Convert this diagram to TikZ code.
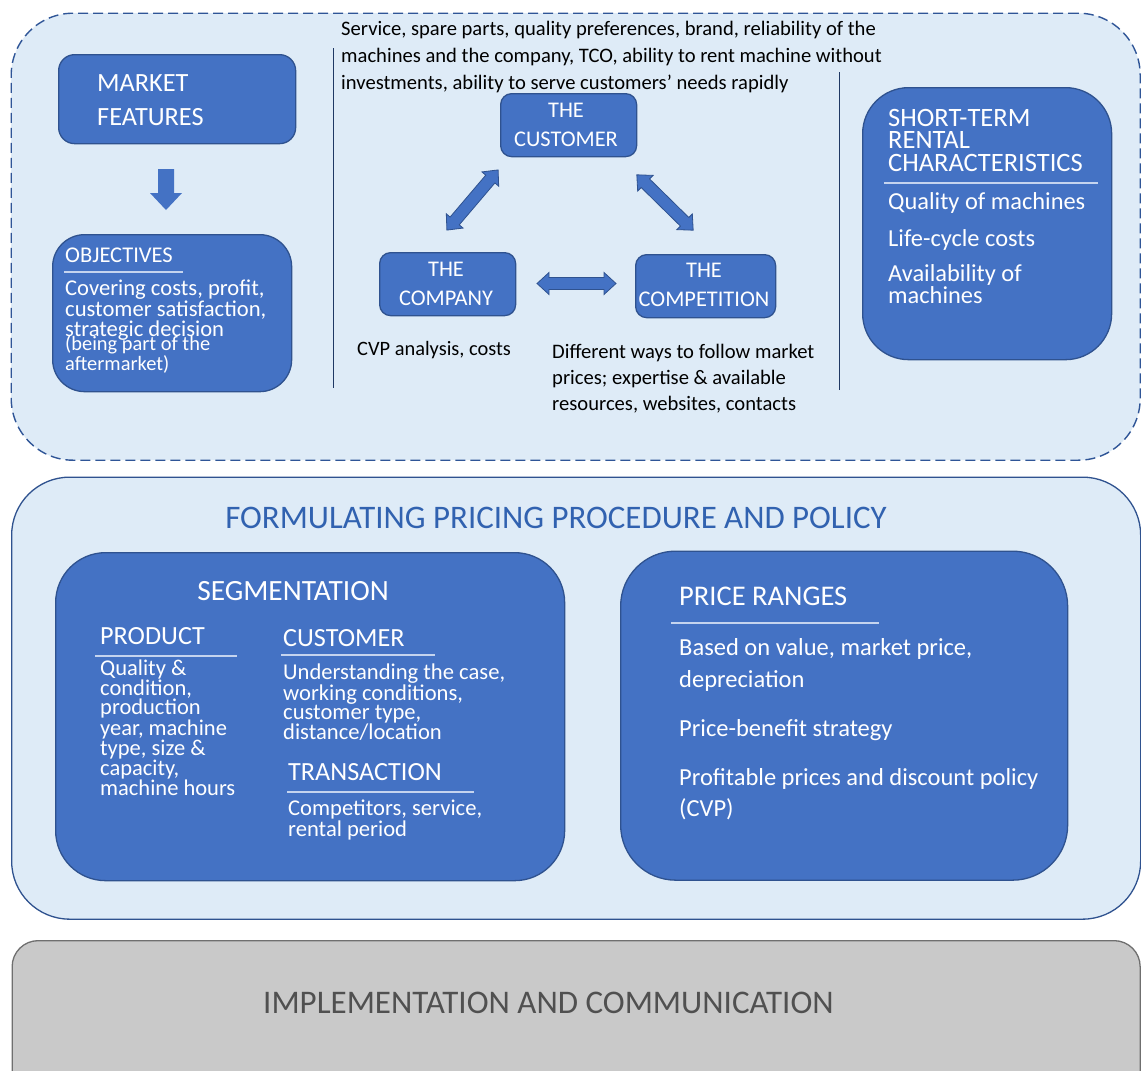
\documentclass[tikz,border=0pt]{standalone}
\usepackage{fontspec}
\setmainfont{Carlito}

\definecolor{paleblue}{HTML}{DEEBF7}
\definecolor{boxblue}{HTML}{4472C4}
\definecolor{edgeblue}{HTML}{2F528F}
\definecolor{dashblue}{HTML}{2F5597}
\definecolor{ruleblue}{HTML}{C5D4EF}
\definecolor{titleblue}{HTML}{3162B0}
\definecolor{navyline}{HTML}{1F3864}
\definecolor{greyfill}{HTML}{C9C9C9}
\definecolor{greyedge}{HTML}{6F6F6F}
\definecolor{greytext}{HTML}{505050}

\newcommand\fsz[2]{\fontsize{#1}{#2}\selectfont}

\begin{document}
\begin{tikzpicture}[x=1pt,y=-1pt,
  darkbox/.style={draw=edgeblue, fill=boxblue, line width=1.3pt, inner sep=0pt, anchor=north west},
  palebox/.style={fill=paleblue, inner sep=0pt, anchor=north west},
  % multi-line texts are anchored on the baseline of their last line
  wtext/.style={text=white, inner sep=0pt, anchor=base west, align=left},
  ctext/.style={text=white, inner sep=0pt, anchor=base},
  btext/.style={text=black, inner sep=0pt, anchor=base west, align=left},
  hrule/.style={draw=ruleblue, line width=1.1pt},
  divider/.style={draw=navyline, line width=0.8pt},
  blockarrow/.style={fill=boxblue, draw=edgeblue, line width=0.8pt, line join=miter},
  blockdbl/.pic={
    \draw[blockarrow] (-39.5,0) -- (-27.5,-11) -- (-27.5,-6) -- (27.5,-6) -- (27.5,-11)
      -- (39.5,0) -- (27.5,11) -- (27.5,6) -- (-27.5,6) -- (-27.5,11) -- cycle;
  },
]
\useasboundingbox (0,0) rectangle (1141,1071);
\fill[white] (0,0) rectangle (1141,1071);
\clip (0,0) rectangle (1141,1071);

% ---------- market analysis panel ----------
\node[palebox, draw=dashblue, line width=1.4pt, dash pattern=on 10pt off 5pt,
  rounded corners=62, minimum width=1129, minimum height=447] (market) at (10.5,12.5) {};

\draw[divider] (333,48) -- (333,388);
\draw[divider] (839,72) -- (839,390);

\node[darkbox, rounded corners=16, minimum width=237, minimum height=89] (mfbox) at (58,54) {};
\node[wtext, font=\fsz{26.3}{34}] (mftext) at (97,125) {MARKET\\FEATURES};

% down arrow from market features to objectives
\fill[boxblue] (158,169) -- (174,169) -- (174,193) -- (182,193) -- (166,210)
  -- (150,193) -- (158,193) -- cycle;

\node[darkbox, rounded corners=32, minimum width=239, minimum height=157] (objbox) at (52,234) {};
\node[wtext, font=\fsz{22.5}{24}] (objhead) at (65,262) {OBJECTIVES};
\draw[hrule] (64,272) -- (183,272);
\node[wtext, font=\fsz{22.6}{19.5}] (objbody) at (65,336)
  {Covering costs, profit,\\customer satisfaction,\\strategic decision};
\node[wtext, font=\fsz{20.4}{17}] (objnote) at (65,370) {(being part of the\\aftermarket)};

\node[btext, font=\fsz{20.6}{27}] (custnote) at (341,89.5)
  {Service, spare parts, quality preferences, brand, reliability of the\\
   machines and the company, TCO, ability to rent machine without\\
   investments, ability to serve customers’ needs rapidly};

\node[darkbox, rounded corners=11, minimum width=136, minimum height=63] (cust) at (500,93) {};
\node[ctext, font=\fsz{22.4}{29}, align=center] (custtext) at (566,146) {THE\\CUSTOMER};

\node[darkbox, rounded corners=11, minimum width=136, minimum height=63] (comp) at (379,252) {};
\node[ctext, font=\fsz{22.4}{29}, align=center] (comptext) at (446,305) {THE\\COMPANY};

\node[darkbox, rounded corners=11, minimum width=140, minimum height=63] (compet) at (635,254) {};
\node[ctext, font=\fsz{22.4}{29}, align=center] (compettext) at (704,306) {THE\\COMPETITION};

% two-headed block arrows between the three parties
\pic[rotate=49.6] (arrowA) at (472.5,200) {blockdbl};
\pic[rotate=-44.5] (arrowB) at (665,202.5) {blockdbl};
\pic (arrowC) at (576.5,283.5) {blockdbl};

\node[btext, font=\fsz{20.4}{26}] (compnote) at (357,355) {CVP analysis, costs};
\node[btext, font=\fsz{20.6}{26}] (competnote) at (552,410)
  {Different ways to follow market\\prices; expertise \& available\\resources, websites, contacts};

\node[darkbox, rounded corners=46, minimum width=249, minimum height=272] (strbox) at (862,87) {};
\node[wtext, font=\fsz{26.5}{22.5}] (strhead) at (888,171) {SHORT-TERM\\RENTAL\\CHARACTERISTICS};
\draw[hrule] (884,183) -- (1098,183);
\node[wtext, font=\fsz{24.4}{20}] (str1) at (888,209) {Quality of machines};
\node[wtext, font=\fsz{24.4}{20}] (str2) at (888,246) {Life-cycle costs};
\node[wtext, font=\fsz{24.4}{20}] (str3) at (888,303) {Availability of\\machines};

% ---------- pricing procedure panel ----------
\node[palebox, draw=edgeblue, line width=1.3pt, rounded corners=58,
  minimum width=1129, minimum height=442] (pricing) at (11,476.5) {};
\node[text=titleblue, inner sep=0pt, anchor=base, font=\fsz{32.9}{34}] (pricinghead) at (556,528)
  {FORMULATING PRICING PROCEDURE AND POLICY};

\node[darkbox, rounded corners=50, minimum width=509, minimum height=328] (segbox) at (55,552) {};
\node[ctext, font=\fsz{29.4}{30}] (seghead) at (293,600) {SEGMENTATION};

\node[wtext, font=\fsz{26.2}{28}] (prodhead) at (100,644) {PRODUCT};
\draw[hrule] (95,656) -- (237,656);
\node[wtext, font=\fsz{22.5}{18.9}] (prodbody) at (100,795.5)
  {Quality \&\\condition,\\production\\year, machine\\type, size \&\\capacity,\\machine hours};

\node[wtext, font=\fsz{26.2}{28}] (custhead) at (283,646) {CUSTOMER};
\draw[hrule] (281,655) -- (435,655);
\node[wtext, font=\fsz{22.6}{19}] (custbody) at (283,739.5)
  {Understanding the case,\\working conditions,\\customer type,\\distance/location};

\node[wtext, font=\fsz{26.2}{28}] (transhead) at (288,780) {TRANSACTION};
\draw[hrule] (287,792) -- (474,792);
\node[wtext, font=\fsz{22.6}{19}] (transbody) at (288,836)
  {Competitors, service,\\rental period};

\node[darkbox, rounded corners=55, minimum width=447, minimum height=329] (pricebox) at (620,550.5) {};
\node[wtext, font=\fsz{28.5}{30}] (pricehead) at (679,605) {PRICE RANGES};
\draw[hrule] (671,623) -- (879,623);
\node[wtext, font=\fsz{24.5}{32}] (price1) at (679,687) {Based on value, market price,\\depreciation};
\node[wtext, font=\fsz{24.5}{32}] (price2) at (679,736) {Price-benefit strategy};
\node[wtext, font=\fsz{24.5}{31}] (price3) at (679,816) {Profitable prices and discount policy\\(CVP)};

% ---------- implementation panel ----------
\node[draw=greyedge, fill=greyfill, line width=1.3pt, rounded corners=26, inner sep=0pt,
  anchor=north west, minimum width=1128, minimum height=170] (implbox) at (11.5,940) {};
\node[text=greytext, inner sep=0pt, anchor=base west, font=\fsz{33}{34}] (impltext) at (263,1013)
  {IMPLEMENTATION AND COMMUNICATION};
\end{tikzpicture}
\end{document}
